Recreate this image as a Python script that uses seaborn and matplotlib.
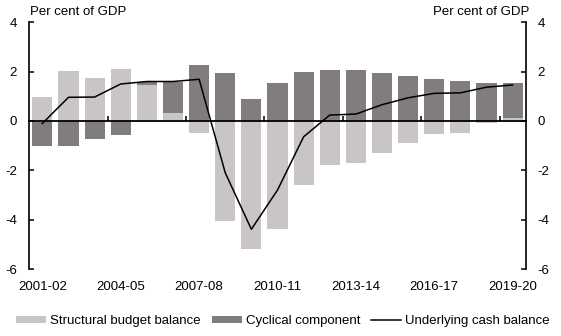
import numpy as np
import pandas as pd
import matplotlib
matplotlib.use("Agg")
import matplotlib.pyplot as plt
import seaborn as sns
from matplotlib.ticker import FixedLocator
from matplotlib.patches import Patch
from matplotlib.lines import Line2D

years = ["2001-02", "2002-03", "2003-04", "2004-05", "2005-06", "2006-07", "2007-08",
         "2008-09", "2009-10", "2010-11", "2011-12", "2012-13", "2013-14", "2014-15",
         "2015-16", "2016-17", "2017-18", "2018-19", "2019-20"]
structural = [0.96, 2.03, 1.74, 2.10, 1.46, 0.34, -0.50, -4.05, -5.20, -4.38, -2.59,
              -1.78, -1.72, -1.31, -0.90, -0.53, -0.47, -0.09, 0.11]
cyclical = [-1.01, -1.01, -0.74, -0.57, 0.13, 1.26, 2.27, 1.96, 0.88, 1.55, 1.97,
            2.08, 2.07, 1.95, 1.81, 1.70, 1.62, 1.53, 1.42]
cash = [-0.10, 0.96, 0.97, 1.50, 1.60, 1.60, 1.69, -2.10, -4.39, -2.80, -0.64,
        0.24, 0.28, 0.66, 0.94, 1.12, 1.14, 1.37, 1.46]
label_years = ["2001-02", "2004-05", "2007-08", "2010-11", "2013-14", "2016-17", "2019-20"]

LIGHT = "#c8c4c8"
DARK = "#807c80"
FS = 9.5

plt.rcParams['font.family'] = ['Liberation Sans', 'DejaVu Sans']

df = pd.DataFrame({"year": years, "structural": structural,
                   "cyclical": cyclical, "cash": cash})
s = np.array(structural)
c = np.array(cyclical)
cyc_bottom = np.where(np.sign(s) == np.sign(c), s, 0.0)

fig = plt.figure(figsize=(5.61, 3.36), dpi=100)
ax = fig.add_axes([29.3 / 561, 1 - 269 / 336, (525.7 - 29.3) / 561, (269 - 22.3) / 336])

sns.barplot(data=df, x="year", y="structural", color=LIGHT, saturation=1,
            width=0.77, ax=ax, linewidth=0, order=years)
sns.barplot(data=df, x="year", y="cyclical", color=DARK, saturation=1,
            width=0.77, ax=ax, linewidth=0, order=years, bottom=cyc_bottom)
sns.lineplot(data=df, x="year", y="cash", color="black", linewidth=1.1, ax=ax,
             errorbar=None)

ax.set_ylim(-6, 4)
ax.set_xlim(-0.5, 18.5)
ax.set_xlabel("")
ax.set_ylabel("")

ax.spines['top'].set_visible(False)
ax.spines['right'].set_visible(False)
ax.spines['bottom'].set_position(('data', 0))
ax.spines['bottom'].set_linewidth(1.3)
ax.spines['left'].set_linewidth(1.2)

pos = [years.index(y) for y in label_years]
ax.set_xticks(pos)
ax.set_xticklabels(label_years, fontsize=FS)
ax.tick_params(axis='x', which='major', length=0, pad=115)
ax.xaxis.set_minor_locator(FixedLocator([2.5, 5.5, 8.5, 11.5, 14.5, 17.5]))
ax.tick_params(axis='x', which='minor', direction='in', length=3.5, width=1.1, color='black')

ax.set_yticks([-6, -4, -2, 0, 2, 4])
ax.set_yticklabels(["-6", "-4", "-2", "0", "2", "4"], fontsize=FS)
ax.tick_params(axis='y', direction='in', length=3.5, width=1.1, pad=9)

ax2 = ax.twinx()
ax2.set_ylim(-6, 4)
ax2.set_yticks([-6, -4, -2, 0, 2, 4])
ax2.set_yticklabels(["-6", "-4", "-2", "0", "2", "4"], fontsize=FS)
ax2.tick_params(axis='y', direction='in', length=3.5, width=1.1, pad=8.5)
for k in ['top', 'left', 'bottom']:
    ax2.spines[k].set_visible(False)
ax2.spines['right'].set_linewidth(1.2)

fig.text(30 / 561, 1 - 12 / 336, "Per cent of GDP", ha='left', va='center', fontsize=FS)
fig.text(529 / 561, 1 - 12 / 336, "Per cent of GDP", ha='right', va='center', fontsize=FS)

handles = [Patch(facecolor=LIGHT, edgecolor='none'),
           Patch(facecolor=DARK, edgecolor='none'),
           Line2D([], [], color='black', linewidth=1.1)]
fig.legend(handles, ["Structural budget balance", "Cyclical component", "Underlying cash balance"],
           loc='center', bbox_to_anchor=(283 / 561, 1 - 321 / 336), ncol=3, frameon=False,
           fontsize=FS, handlelength=2.3, handleheight=0.5, handletextpad=0.3,
           columnspacing=0.8, borderpad=0.2)

fig.savefig("out.png", dpi=100)
